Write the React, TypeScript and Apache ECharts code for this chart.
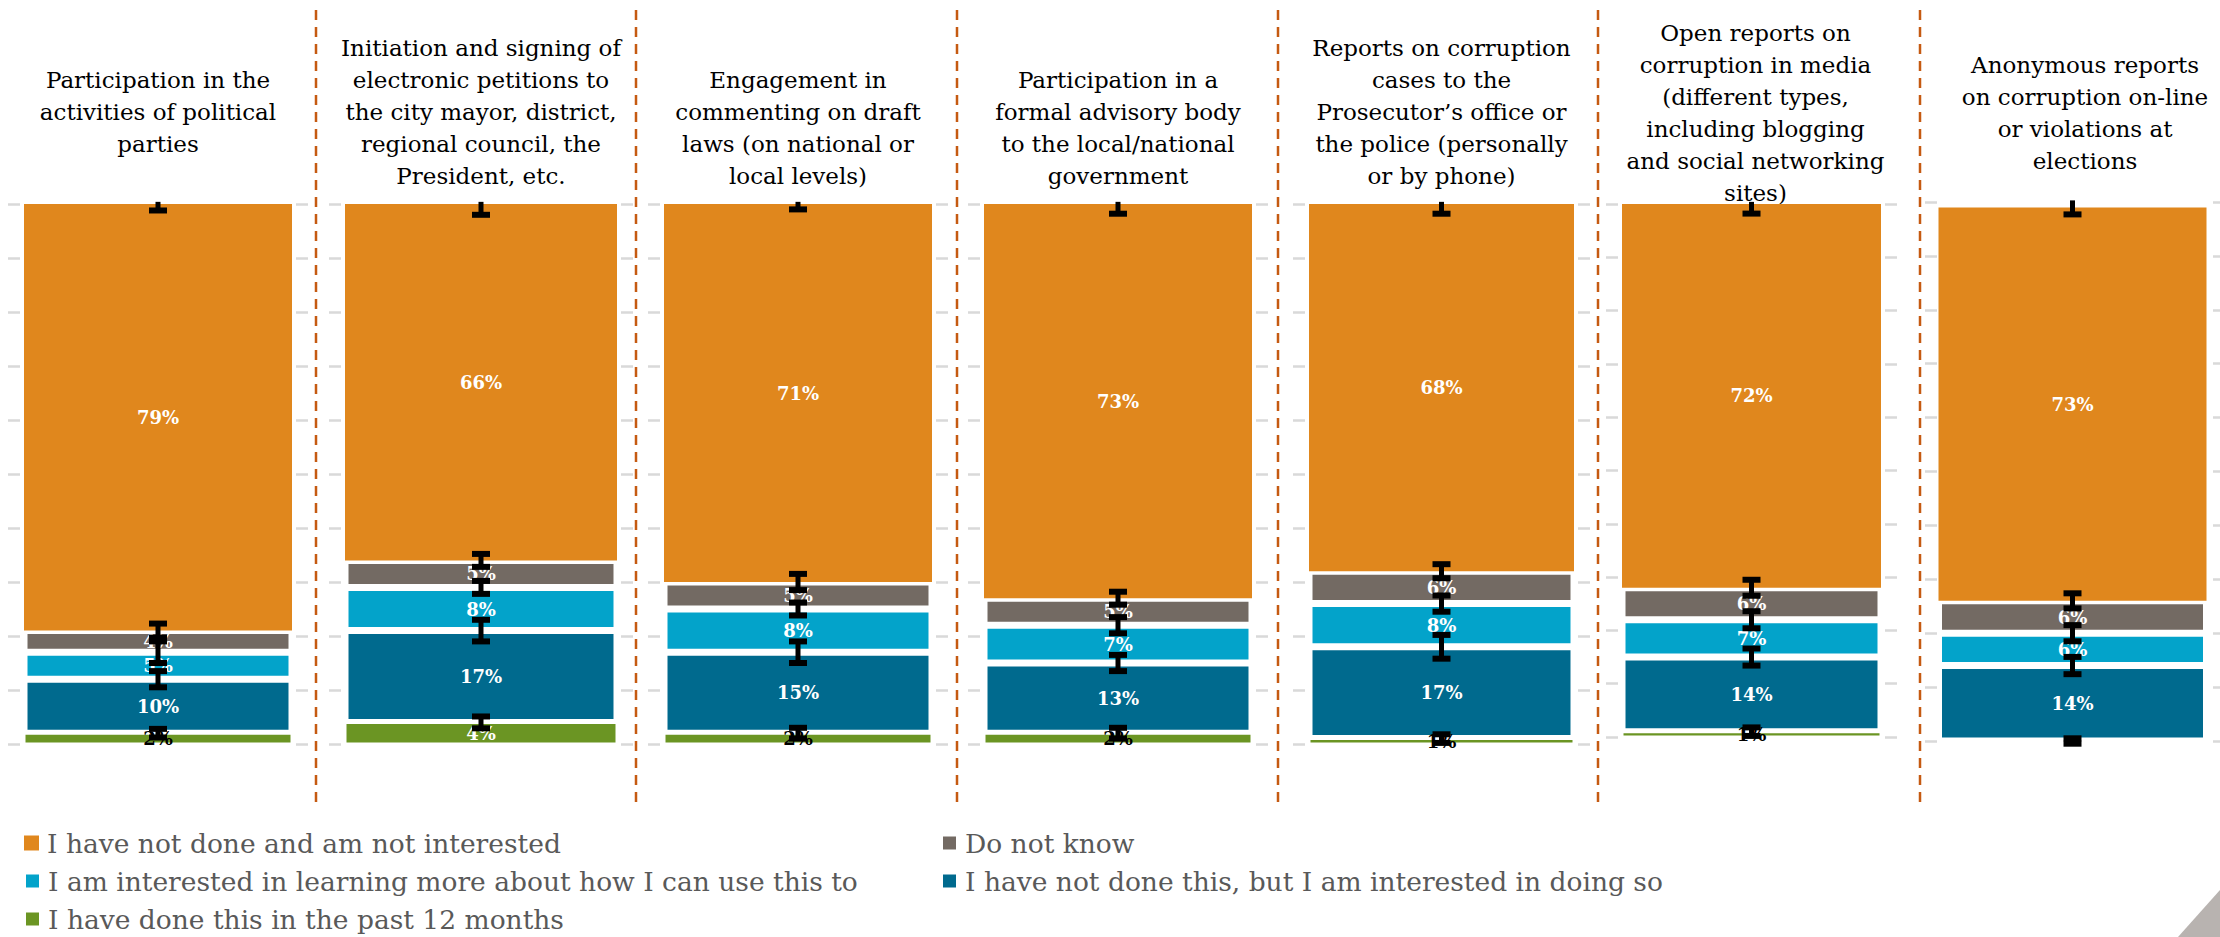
import React, { useEffect, useRef } from "react";
import * as echarts from "echarts";

// ---- data ----
const categories = [
  "I have done this in the past 12 months",
  "I have not done this, but I am interested in doing so",
  "I am interested in learning more about how I can use this to",
  "Do not know",
  "I have not done and am not interested",
];
const panelTitles = [
  ["Participation in the", "activities of political", "parties"],
  ["Initiation and signing of", "electronic petitions to", "the city mayor, district,", "regional council, the", "President, etc."],
  ["Engagement in", "commenting on draft", "laws (on national or", "local levels)"],
  ["Participation in a", "formal advisory body", "to the local/national", "government"],
  ["Reports on corruption", "cases to the", "Prosecutor\u2019s office or", "the police (personally", "or by phone)"],
  ["Open reports on", "corruption in media", "(different types,", "including blogging", "and social networking", "sites)"],
  ["Anonymous reports", "on corruption on-line", "or violations at", "elections"],
];
const doneLast12 = [2, 4, 2, 2, 1, 1, 0];
const interestedDoing = [10, 17, 15, 13, 17, 14, 14];
const interestedLearning = [5, 8, 8, 7, 8, 7, 6];
const doNotKnow = [4, 5, 5, 5, 6, 6, 6];
const notInterested = [79, 66, 71, 73, 68, 72, 73];

const errDone = [0.8, 1.1, 1.0, 1.0, 0.8, 0.8, 0.5];
const errDoing = [1.5, 2.0, 2.0, 1.5, 2.2, 1.6, 1.6];
const errLearning = [2.0, 1.2, 1.2, 1.5, 1.5, 1.6, 1.5];
const errDontKnow = [1.3, 1.2, 1.5, 1.2, 1.3, 1.5, 1.4];
const errNotInterested = [1.2, 2.0, 2.0, 1.8, 1.8, 1.8, 1.3];

const seriesValues = [doneLast12, interestedDoing, interestedLearning, doNotKnow, notInterested];
const seriesErrors = [errDone, errDoing, errLearning, errDontKnow, errNotInterested];

// ---- styling / layout ----
const colors = ["#6B9523", "#006A8E", "#03A3CA", "#736A63", "#E0871D"];
const borderWidths = [1.5, 3.5, 3.5, 3.5, 0];
const layout = [
  { bar: [24, 292], top: 204, bottom: 744, titleY: 80, titleDx: 0 },
  { bar: [345, 617], top: 204, bottom: 744, titleY: 48, titleDx: 0 },
  { bar: [664, 932], top: 204, bottom: 744, titleY: 80, titleDx: 0 },
  { bar: [984, 1252], top: 204, bottom: 744, titleY: 80, titleDx: 0 },
  { bar: [1309, 1574], top: 204, bottom: 744, titleY: 48, titleDx: 0 },
  { bar: [1622, 1881], top: 204, bottom: 737, titleY: 33, titleDx: 4 },
  { bar: [1941, 2209], top: 202, bottom: 741, titleY: 65, titleDx: 10 },
];
const separators = [316, 636, 957, 1278, 1598, 1920];
// legend placement: [category index, left, row center y]
const legendSlots = [
  [4, 24, 843],
  [2, 24, 881],
  [0, 24, 919],
  [3, 941, 843],
  [1, 941, 881],
];
const SERIF = '"DejaVu Serif", serif';

function buildOption() {
  const grid: any[] = [];
  const xAxis: any[] = [];
  const yAxis: any[] = [];
  const series: any[] = [];
  const graphic: any[] = [];

  layout.forEach((L, p) => {
    const bw = L.bar[1] - L.bar[0];
    grid.push({ left: L.bar[0] - 16, width: bw + 32, top: L.top, height: L.bottom - L.top });
    xAxis.push({ type: "category", gridIndex: p, data: ["x"], show: false });
    yAxis.push({
      type: "value", gridIndex: p, min: 0, max: 100, interval: 10,
      axisLabel: { show: false }, axisLine: { show: false }, axisTick: { show: false },
      splitLine: { show: true, lineStyle: { color: "#D9D9D9", width: 2.5, type: [12, bw + 8] } },
    });
    let cum = 0;
    const errData: any[] = [];
    seriesValues.forEach((vals, k) => {
      const v = vals[p];
      cum += v;
      errData.push([0, cum, seriesErrors[k][p]]);
      series.push({
        type: "bar",
        name: categories[k],
        xAxisIndex: p,
        yAxisIndex: p,
        stack: "s" + p,
        barWidth: bw,
        silent: true,
        itemStyle: { color: colors[k], borderColor: "#ffffff", borderWidth: borderWidths[k] },
        label: {
          show: v > 0,
          position: "inside",
          formatter: "{c}%",
          fontFamily: SERIF,
          fontWeight: "bold",
          fontSize: 18,
          color: v < 3 ? "#000000" : "#ffffff",
        },
        data: [v],
      });
    });
    series.push({
      type: "custom",
      xAxisIndex: p,
      yAxisIndex: p,
      z: 10,
      silent: true,
      data: errData,
      renderItem: (params: any, api: any) => {
        const c = api.value(1);
        const e = api.value(2);
        const hiVal = Math.min(c + e, 100.4);
        const mid = api.coord([0, c]);
        const hi = api.coord([0, hiVal]);
        const lo = api.coord([0, c - e]);
        const x = mid[0];
        const st = { stroke: "#000000", lineWidth: 5 };
        const capSt = { stroke: "#000000", lineWidth: 6 };
        const children: any[] = [
          { type: "line", shape: { x1: x, y1: hi[1], x2: x, y2: lo[1] }, style: st },
          { type: "line", shape: { x1: x - 9, y1: lo[1], x2: x + 9, y2: lo[1] }, style: capSt },
        ];
        if (c + e <= 100) {
          children.push({ type: "line", shape: { x1: x - 9, y1: hi[1], x2: x + 9, y2: hi[1] }, style: capSt });
        }
        return { type: "group", children };
      },
    });

    graphic.push({
      type: "text",
      x: (L.bar[0] + L.bar[1]) / 2 + L.titleDx,
      y: L.titleY - 16,
      silent: true,
      style: {
        text: panelTitles[p].join("\n"),
        align: "center",
        verticalAlign: "top",
        fontFamily: SERIF,
        fontSize: 23,
        lineHeight: 32,
        fill: "#000000",
      },
    });
  });

  separators.forEach((x) => {
    graphic.push({
      type: "line",
      silent: true,
      shape: { x1: x, y1: 10, x2: x, y2: 802 },
      style: { stroke: "#C55A11", lineWidth: 2.5, lineDash: [10, 7] },
    });
  });

  graphic.push({
    type: "polygon",
    silent: true,
    shape: { points: [[2178, 937], [2220, 890], [2220, 937]] },
    style: { fill: "#B8B3B0" },
  });

  const legend = legendSlots.map(([k, left, cy]) => ({
    orient: "vertical",
    left,
    top: cy - 14,
    padding: 0,
    itemWidth: 15,
    itemHeight: 15,
    itemGap: 0,
    icon: "rect",
    selectedMode: false,
    data: [categories[k]],
    textStyle: { fontFamily: SERIF, fontSize: 26.5, color: "#595959", lineHeight: 28, padding: [0, 0, 0, 3] },
  }));

  return {
    animation: false,
    grid,
    xAxis,
    yAxis,
    series,
    graphic,
    legend,
  };
}

export default function App() {
  const ref = useRef<HTMLDivElement>(null);
  useEffect(() => {
    if (!ref.current) return;
    const chart = echarts.init(ref.current, undefined, { renderer: "svg" });
    chart.setOption(buildOption() as any);
    return () => chart.dispose();
  }, []);
  return (
    <div
      ref={ref}
      style={{ position: "fixed", left: 0, top: 0, width: 2220, height: 937, background: "#ffffff" }}
    />
  );
}
